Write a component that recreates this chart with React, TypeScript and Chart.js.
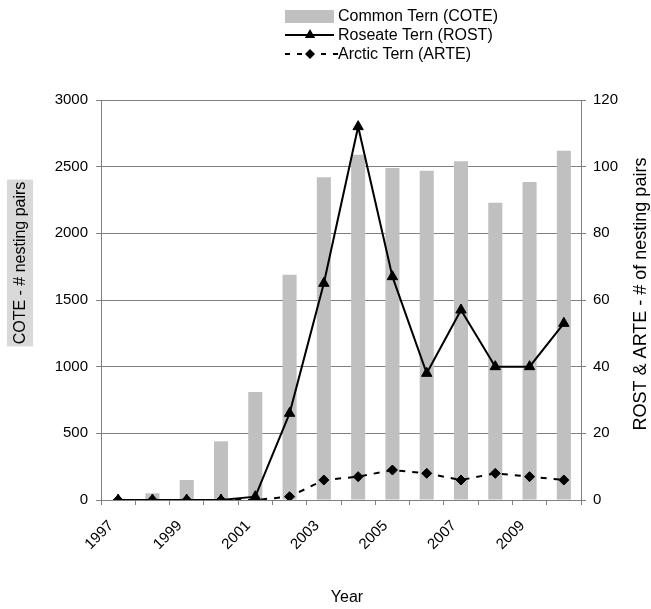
import { useEffect, useRef } from 'react';
import { Chart, registerables } from 'chart.js';

Chart.register(...registerables);

// ---- data ----
const years = ['1997', '1998', '1999', '2000', '2001', '2002', '2003', '2004', '2005', '2006', '2007', '2008', '2009', '2010'];
const coteValues = [0, 50, 150, 440, 810, 1690, 2420, 2590, 2490, 2470, 2540, 2230, 2385, 2620];
const rostValues = [0, 0, 0, 0, 1, 26, 65, 112, 67, 38, 57, 40, 40, 53];
const arteValues = [0, 0, 0, 0, 0, 1, 6, 7, 9, 8, 6, 8, 7, 6];
const seriesNames = ['Common Tern (COTE)', 'Roseate Tern (ROST)', 'Arctic Tern (ARTE)'];
const leftTitle = 'COTE - # nesting pairs';
const rightTitle = 'ROST & ARTE - # of nesting pairs';
const xTitle = 'Year';

const FONT = "'Liberation Sans', Arial, sans-serif";
const BAR_COLOR = '#C0C0C0';
const GRID = '#808080';

function tri(ctx: CanvasRenderingContext2D, x: number, y: number, r: number) {
  ctx.beginPath();
  ctx.moveTo(x, y - r);
  ctx.lineTo(x + r * Math.sin((2 * Math.PI) / 3), y - r * Math.cos((2 * Math.PI) / 3));
  ctx.lineTo(x + r * Math.sin((4 * Math.PI) / 3), y - r * Math.cos((4 * Math.PI) / 3));
  ctx.closePath();
  ctx.fill();
}

function diamond(ctx: CanvasRenderingContext2D, x: number, y: number, r: number) {
  ctx.beginPath();
  ctx.moveTo(x - r, y);
  ctx.lineTo(x, y - r);
  ctx.lineTo(x + r, y);
  ctx.lineTo(x, y + r);
  ctx.closePath();
  ctx.fill();
}

const decor = {
  id: 'decor',
  afterDraw(chart: any) {
    const ctx: CanvasRenderingContext2D = chart.ctx;
    ctx.save();
    // legend
    const lx0 = 285;
    const lx1 = 334;
    const tx = 338;
    const rows = [16, 35, 54];
    ctx.fillStyle = BAR_COLOR;
    ctx.fillRect(lx0, rows[0] - 6, lx1 - lx0, 13);
    ctx.strokeStyle = '#000';
    ctx.fillStyle = '#000';
    ctx.lineWidth = 2;
    ctx.beginPath();
    ctx.moveTo(lx0, rows[1]);
    ctx.lineTo(lx1, rows[1]);
    ctx.stroke();
    tri(ctx, 310, rows[1], 6);
    ctx.setLineDash([5, 7]);
    ctx.beginPath();
    ctx.moveTo(lx0, rows[2]);
    ctx.lineTo(lx1 + 5, rows[2]);
    ctx.stroke();
    ctx.setLineDash([]);
    diamond(ctx, 310, rows[2], 5);
    ctx.font = `16px ${FONT}`;
    ctx.textAlign = 'left';
    ctx.textBaseline = 'middle';
    seriesNames.forEach((n, i) => ctx.fillText(n, tx, rows[i] + 1));

    // left title with gray box
    ctx.save();
    ctx.translate(20, 263);
    ctx.rotate(-Math.PI / 2);
    ctx.font = `16px ${FONT}`;
    const w = ctx.measureText(leftTitle).width;
    ctx.fillStyle = '#D9D9D9';
    ctx.fillRect(-w / 2 - 2, -13, w + 4, 26);
    ctx.fillStyle = '#000';
    ctx.textAlign = 'center';
    ctx.textBaseline = 'middle';
    ctx.fillText(leftTitle, 0, 1);
    ctx.restore();

    // right title
    ctx.save();
    ctx.translate(641, 294);
    ctx.rotate(-Math.PI / 2);
    ctx.font = `18px ${FONT}`;
    ctx.fillStyle = '#000';
    ctx.textAlign = 'center';
    ctx.textBaseline = 'middle';
    ctx.fillText(rightTitle, 0, 0);
    ctx.restore();

    // x title
    ctx.font = `16px ${FONT}`;
    ctx.fillStyle = '#000';
    ctx.textAlign = 'center';
    ctx.textBaseline = 'middle';
    ctx.fillText(xTitle, 347, 598);
    ctx.restore();
  },
};

export default function App() {
  const ref = useRef<HTMLCanvasElement>(null);
  useEffect(() => {
    if (!ref.current) return;
    const chart = new Chart(ref.current, {
      type: 'bar',
      data: {
        labels: years,
        datasets: [
          {
            type: 'bar',
            label: seriesNames[0],
            data: coteValues,
            backgroundColor: BAR_COLOR,
            borderWidth: 0,
            yAxisID: 'yL',
            order: 3,
            barPercentage: 0.41,
            categoryPercentage: 1,
          },
          {
            type: 'line',
            label: seriesNames[1],
            data: rostValues,
            borderColor: '#000',
            backgroundColor: '#000',
            borderWidth: 2,
            pointStyle: 'triangle',
            pointRadius: 6,
            pointBorderWidth: 1,
            yAxisID: 'yR',
            order: 1,
            tension: 0,
          },
          {
            type: 'line',
            label: seriesNames[2],
            data: arteValues,
            borderColor: '#000',
            backgroundColor: '#000',
            borderWidth: 2,
            borderDash: [6, 7],
            pointStyle: 'rectRot',
            pointRadius: 5,
            pointBorderWidth: 1,
            yAxisID: 'yR',
            order: 2,
            tension: 0,
          },
        ],
      },
      options: {
        animation: false,
        responsive: false,
        devicePixelRatio: 1,
        layout: { padding: { top: 100, left: 0, right: 0, bottom: 0 } },
        plugins: { legend: { display: false }, tooltip: { enabled: false } },
        scales: {
          x: {
            offset: true,
            grid: { display: true, drawOnChartArea: false, drawTicks: true, tickLength: 5, color: GRID, offset: true },
            border: { display: true, color: GRID, width: 1 },
            ticks: {
              autoSkip: false,
              minRotation: 45,
              maxRotation: 45,
              padding: 12,
              labelOffset: -7,
              color: '#000',
              font: { family: FONT, size: 15 },
              callback: (_v: any, i: number) => (i % 2 === 0 ? years[i] : ''),
            },
            afterFit: (s: any) => {
              s.height = 109;
            },
          },
          yL: {
            position: 'left',
            min: 0,
            max: 3000,
            ticks: {
              stepSize: 500,
              color: '#000',
              padding: 8,
              font: { family: FONT, size: 15 },
              callback: (v: any) => String(v),
            },
            grid: { color: GRID, tickLength: 5, lineWidth: 1 },
            border: { display: true, color: GRID, width: 1 },
            afterFit: (s: any) => {
              s.width = 101;
            },
          },
          yR: {
            position: 'right',
            min: 0,
            max: 120,
            ticks: {
              stepSize: 20,
              color: '#000',
              padding: 7,
              font: { family: FONT, size: 15 },
              callback: (v: any) => String(v),
            },
            grid: { drawOnChartArea: false, color: GRID, tickLength: 5 },
            border: { display: true, color: GRID, width: 1 },
            afterFit: (s: any) => {
              s.width = 70;
            },
          },
        },
      },
      plugins: [decor],
    });
    return () => chart.destroy();
  }, []);
  return (
    <div style={{ position: 'absolute', left: 0, top: 0, width: 651, height: 609, background: '#fff' }}>
      <canvas ref={ref} width={651} height={609} style={{ display: 'block' }} />
    </div>
  );
}
